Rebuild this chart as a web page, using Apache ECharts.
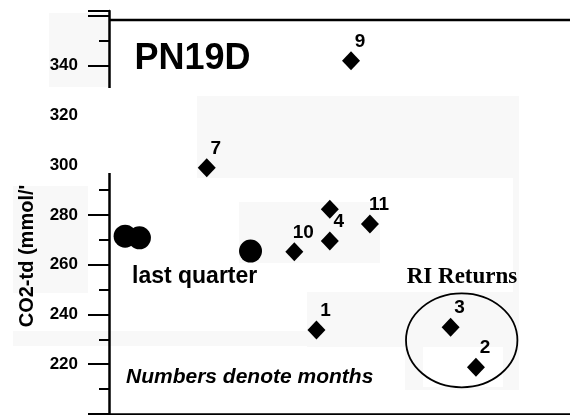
<!DOCTYPE html>
<html>
<head>
<meta charset="utf-8">
<script src="https://cdn.jsdelivr.net/npm/echarts@6/dist/echarts.min.js"></script>
<style>
html,body{margin:0;padding:0;background:#fff;}
#c{width:570px;height:415px;}
</style>
</head>
<body>
<div id="c"></div>
<script>
// ---- data ----
const monthLabels = ['9', '7', '10', '4', '', '11', '1', '3', '2'];
const monthX      = [52.5, 21.2, 40.2, 47.9, 47.9, 56.6, 45.0, 74.1, 79.6];
const monthY      = [342, 299, 265.2, 269.5, 282.3, 276.4, 233.8, 234.9, 218.8];

const quarterX = [3.5, 6.6, 30.7];
const quarterY = [271.5, 270.8, 265.5];

const yMin = 200, yMax = 362, yStep = 20;
const hiddenTickLabels = [200, 360, 362];

const FONT = "'Liberation Sans', Arial, sans-serif";

const monthData = monthX.map((x, i) => [x, monthY[i], monthLabels[i]]);
const quarterData = quarterX.map((x, i) => [x, quarterY[i]]);

const chart = echarts.init(document.getElementById('c'), null, {renderer: 'canvas'});

const patch = (x, y, w, h, fill) => ({
  type: 'rect', silent: true, z: -10,
  shape: {x, y, width: w, height: h},
  style: {fill: fill || '#f8f8f8'}
});

chart.setOption({
  animation: false,
  backgroundColor: '#fff',
  grid: {left: 109, right: 0, top: 11, height: 403},
  xAxis: {
    type: 'value', min: 0, max: 100,
    axisLine: {show: true, onZero: false, lineStyle: {color: '#000', width: 2.5}},
    axisTick: {show: false}, axisLabel: {show: false}, splitLine: {show: false}
  },
  yAxis: {
    type: 'value', min: yMin, max: yMax, interval: yStep,
    axisLine: {show: true, lineStyle: {color: '#000', width: 2.5}},
    axisTick: {show: true, length: 21, lineStyle: {color: '#000', width: 2}},
    minorTick: {show: true, splitNumber: 2, length: 10, lineStyle: {color: '#000', width: 2}},
    splitLine: {show: false},
    axisLabel: {
      margin: 31, color: '#000', fontSize: 17, fontWeight: 'bold', fontFamily: FONT,
      showMaxLabel: false,
      formatter: v => hiddenTickLabels.includes(v) ? '' : String(v)
    }
  },
  series: [
    {
      type: 'scatter', name: 'months', z: 5,
      symbol: 'diamond', symbolSize: [18, 19],
      itemStyle: {color: '#000', opacity: 1},
      data: monthData,
      label: {
        show: true, position: 'inside', offset: [9, -19],
        color: '#000', fontSize: 19, fontWeight: 'bold', fontFamily: FONT,
        formatter: p => p.data[2]
      },
      emphasis: {disabled: true}
    },
    {
      type: 'scatter', name: 'last quarter', z: 5,
      symbol: 'circle', symbolSize: 23,
      itemStyle: {color: '#000', opacity: 1},
      data: quarterData,
      emphasis: {disabled: true}
    }
  ],
  graphic: [
    // faint scan background patches
    patch(49, 13, 60, 74),
    patch(197, 96, 322, 82),
    patch(513, 178, 6, 114),
    patch(239, 202, 141, 61),
    patch(13, 186, 75, 107),
    patch(307, 292, 212, 55),
    patch(13, 331, 294, 15),
    patch(405, 343, 114, 47),
    patch(423, 347, 80, 40, '#ffffff'),
    // gap in the vertical axis
    {type: 'rect', silent: true, z: 50, shape: {x: 84, y: 88, width: 30, height: 85}, style: {fill: '#fff'}},
    // top border line
    {type: 'line', silent: true, z: 50, shape: {x1: 109, y1: 20, x2: 570, y2: 20}, style: {stroke: '#000', lineWidth: 2.5}},
    // texts
    {type: 'text', z: 60, x: 192.5, y: 59, style: {text: 'PN19D', fill: '#000', font: "bold 36px " + FONT, align: 'center', verticalAlign: 'middle'}},
    {type: 'text', z: 60, x: 132, y: 277, style: {text: 'last quarter', fill: '#000', font: "bold 23px " + FONT, align: 'left', verticalAlign: 'middle'}},
    {type: 'text', z: 60, x: 462, y: 277, style: {text: 'RI Returns', fill: '#000', font: "bold 23px 'Liberation Serif', 'Times New Roman', serif", align: 'center', verticalAlign: 'middle'}},
    {type: 'text', z: 60, x: 126, y: 377, style: {text: 'Numbers denote months', fill: '#000', font: "italic bold 21px " + FONT, align: 'left', verticalAlign: 'middle'}},
    {type: 'text', z: 60, x: 27, y: 256, rotation: Math.PI / 2, style: {text: "CO2-td (mmol/'", fill: '#000', font: "bold 20px " + FONT, align: 'center', verticalAlign: 'middle'}},
    // RI Returns ellipse
    {type: 'ellipse', z: 60, silent: true, shape: {cx: 461.7, cy: 340.3, rx: 55.7, ry: 47}, style: {fill: 'none', stroke: '#000', lineWidth: 1.8}}
  ]
});
</script>
</body>
</html>
